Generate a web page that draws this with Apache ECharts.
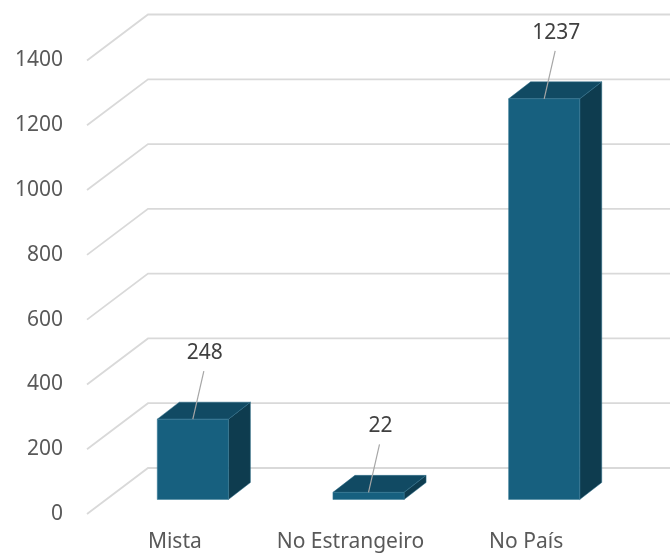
<!DOCTYPE html>
<html>
<head>
<meta charset="utf-8">
<script src="https://cdn.jsdelivr.net/npm/echarts@6/dist/echarts.min.js"></script>
<style>
html,body{margin:0;padding:0;background:#fff;}
#chart{width:670px;height:557px;}
</style>
</head>
<body>
<div id="chart"></div>
<script>
// ---- data ----
const categories = ['Mista', 'No Estrangeiro', 'No País'];
const values = [248, 22, 1237];
const yTicks = [0, 200, 400, 600, 800, 1000, 1200, 1400];

// ---- 3D styling constants ----
const FONT = 'Noto Sans';
const FS = 21;
const WALL_DX = 61, WALL_DY = -46;       // depth of back wall
const BAR_SHIFT_X = 18, BAR_SHIFT_Y = -14.5; // bar front plane offset
const BAR_DX = 22, BAR_DY = -17;         // bar depth
const BAR_RATIO = 0.405;
const COL_FRONT = '#17607f', COL_TOP = '#114a63', COL_SIDE = '#0e3c4f';

const chart = echarts.init(document.getElementById('chart'), null, {renderer: 'canvas'});

function renderGrid(params, api) {
  const v = api.value(0);
  const y = api.coord([0, v])[1];
  const x0 = params.coordSys.x;
  return {
    type: 'polyline',
    shape: {points: [[x0, y], [x0 + WALL_DX, y + WALL_DY], [700, y + WALL_DY]]},
    style: {stroke: '#d9d9d9', lineWidth: 1.8, fill: null},
    silent: true
  };
}

function renderBar(params, api) {
  const idx = api.value(0);
  const val = api.value(1);
  const base = api.coord([idx, 0]);
  const top = api.coord([idx, val]);
  const band = api.size([1, 0])[0];
  const w = band * BAR_RATIO;
  const cx = base[0] + BAR_SHIFT_X;
  const x1 = cx - w / 2, x2 = cx + w / 2;
  const yb = base[1] + BAR_SHIFT_Y;
  const yt = top[1] + BAR_SHIFT_Y;
  return {
    type: 'group',
    children: [
      {type: 'polygon', shape: {points: [[x2, yb], [x2 + BAR_DX, yb + BAR_DY], [x2 + BAR_DX, yt + BAR_DY], [x2, yt]]},
        style: {fill: COL_SIDE, stroke: '#2f6f8a', lineWidth: 0.5}},
      {type: 'polygon', shape: {points: [[x1, yt], [x2, yt], [x2 + BAR_DX, yt + BAR_DY], [x1 + BAR_DX, yt + BAR_DY]]},
        style: {fill: COL_TOP, stroke: '#2f6f8a', lineWidth: 0.5}},
      {type: 'rect', shape: {x: x1, y: yt, width: w, height: yb - yt},
        style: {fill: COL_FRONT, stroke: '#3b7d99', lineWidth: 0.5}},
      {type: 'line', shape: {x1: cx + 11, y1: yt - 48, x2: cx, y2: yt},
        style: {stroke: '#a6a6a6', lineWidth: 1.2}},
      {type: 'text', x: cx + 12, y: yt - 66,
        style: {text: String(val), fill: '#404040', font: FS + 'px "' + FONT + '"', align: 'center', verticalAlign: 'middle'}}
    ]
  };
}

chart.setOption({
  animation: false,
  backgroundColor: '#ffffff',
  textStyle: {fontFamily: FONT},
  grid: {left: 87, right: 56, top: 60.5, bottom: 43, containLabel: false},
  xAxis: {
    type: 'category',
    data: categories,
    boundaryGap: true,
    axisLine: {show: false},
    axisTick: {show: false},
    splitLine: {show: false},
    axisLabel: {color: '#595959', fontSize: FS, fontFamily: FONT, margin: 18, interval: 0, hideOverlap: false}
  },
  yAxis: {
    type: 'value',
    min: 0, max: 1400, interval: 200,
    axisLine: {show: false},
    axisTick: {show: false},
    splitLine: {show: false},
    axisLabel: {color: '#595959', fontSize: FS, fontFamily: FONT, margin: 24,
      formatter: v => String(v)}
  },
  series: [
    {type: 'custom', renderItem: renderGrid, data: yTicks.map(v => [v]), clip: false, z: 1, silent: true,
      encode: {y: 0}},
    {type: 'custom', renderItem: renderBar, data: categories.map((c, i) => [i, values[i]]), clip: false, z: 2,
      encode: {x: 0, y: 1}}
  ]
});
</script>
</body>
</html>
